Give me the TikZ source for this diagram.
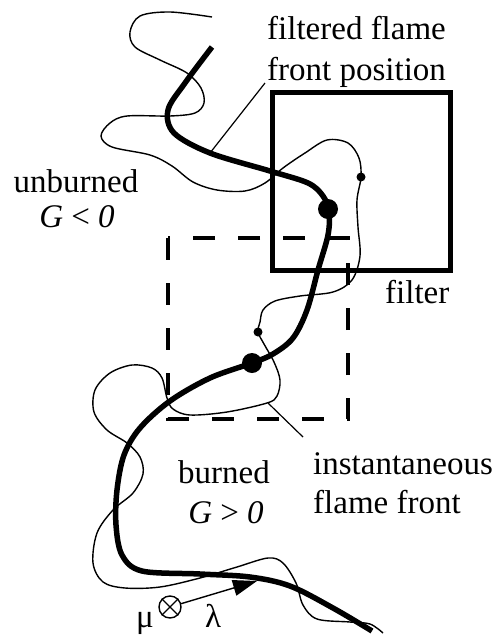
\documentclass[tikz,border=0pt]{standalone}
\usepackage{fontspec}
\setmainfont{Liberation Serif}
\usetikzlibrary{arrows.meta}
\begin{document}
\begin{tikzpicture}[x=1pt,y=-1pt,
  lbl/.style={font=\fontsize{33}{40}\selectfont, inner sep=0pt},
  thinfront/.style={line width=1.4pt, line join=round},
  thickfront/.style={line width=5.5pt, line join=round},
  leader/.style={line width=1.2pt},
  filterbox/.style={line width=5pt},
  dashbox/.style={line width=3.5pt, dash pattern=on 22pt off 23pt}]
\useasboundingbox (0,0) rectangle (500,638);

% boxes
\draw[dashbox] (168,238) -- (168,419) -- (348,419) -- (348,238) -- cycle;
\draw[filterbox] (272,92) rectangle (450,270);

% instantaneous flame front (thin)
\draw[thinfront] plot[smooth, tension=0.55] coordinates {
 (212,17) (170,12) (140,16) (130,32) (135,47) (160,60) (187,73) (201,88) (204,103) (195,113) (170,116) (127,116)
 (110,123) (101,136) (112,147) (150,155) (172,166) (193,182) (217,190) (245,191) (265,183)
 (283,168) (305,153) (327,140) (348,143) (359,158) (361,177) (357,200) (358,227) (360,256)
 (352,280) (333,292) (300,296) (275,301) (263,310) (260,322) (258,332) (264,344) (274,362)
 (280,380) (277,396) (267,403) (227,412) (190,415) (173,409) (167,398) (162,378) (152,368)
 (132,365) (110,373) (95,390) (94,412) (107,430) (127,443) (140,457) (143,474) (133,493)
 (113,510) (97,533) (93,563) (103,582) (125,588) (160,587) (200,578) (237,567) (268,558)
 (283,563) (296,583) (303,605) (317,619) (350,622) (370,624) (383,633)};

% filtered flame front (thick)
\draw[thickfront] plot[smooth, tension=0.55] coordinates {
 (212,47) (185,83) (168,110) (174,133) (210,153) (270,171) (308,183) (323,196) (329,212)
 (328,235) (318,270) (307,310) (293,338) (273,354) (252,363) (210,378) (170,401) (140,428)
 (124,455) (117,490) (116,525) (122,555) (142,571) (200,574) (250,577) (290,586) (333,608) (372,631)};

% dots
\fill (328,209) circle[radius=10pt];
\fill (252,363) circle[radius=10pt];
\fill (361,177) circle[radius=4.5pt];
\fill (258,332) circle[radius=4.5pt];

% leaders
\coordinate (lf1) at (210,153);
\coordinate (lf2) at (265,83);
\coordinate (li1) at (268,403);
\coordinate (li2) at (303,437);
\draw[leader] (lf1) -- (lf2);
\draw[leader] (li1) -- (li2);

% labels
\node[lbl, anchor=base west] (tff) at (267,39) {filtered flame};
\node[lbl, anchor=base west] (tfp) at (267,80) {front position};
\node[lbl, anchor=base] (tub) at (76,192) {unburned};
\node[lbl, anchor=base] (tgl) at (77,227) {\itshape G\/ \upshape< \itshape 0};
\node[lbl, anchor=base west] (tfi) at (385,303) {filter};
\node[lbl, anchor=base] (tb) at (224,483) {burned};
\node[lbl, anchor=base] (tgg) at (226,523) {\itshape G\/ \upshape> \itshape 0};
\node[lbl, anchor=base west] (tin) at (313,474) {instantaneous};
\node[lbl, anchor=base west] (tfl) at (313,513) {flame front};
\node[lbl, anchor=base west] (tmu) at (136,627) {μ};
\node[lbl, anchor=base west] (tla) at (205,627) {λ};

% otimes and arrow
\node[draw, circle, line width=1.4pt, minimum size=22pt, inner sep=0pt] (ot) at (170,607) {};
\draw[line width=1.4pt] (ot.45) -- (ot.225) (ot.135) -- (ot.315);
\coordinate (ae) at (257,581);
\draw[line width=1.4pt, -{Triangle[length=24pt,width=16pt]}] (ot) -- (ae);
\end{tikzpicture}
\end{document}
